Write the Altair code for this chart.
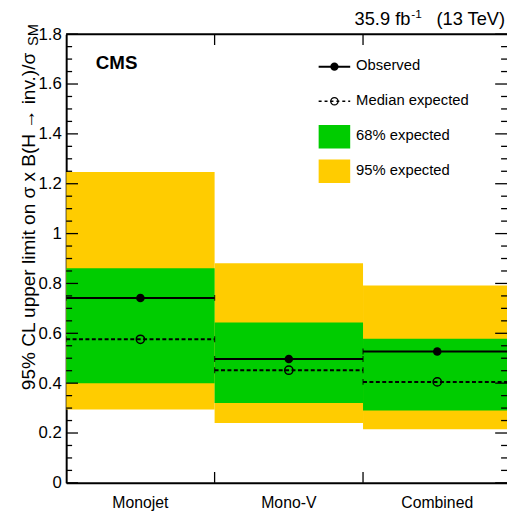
import altair as alt
import pandas as pd

# ---- data ----
categories = ["Monojet", "Mono-V", "Combined"]
bin_lo = [0.0, 1.0, 2.0]
bin_hi = [1.0, 2.0, 3.0]
observed = [0.742, 0.497, 0.527]
expected = [0.576, 0.452, 0.405]
lo68 = [0.400, 0.320, 0.290]
hi68 = [0.861, 0.643, 0.578]
lo95 = [0.294, 0.240, 0.215]
hi95 = [1.247, 0.881, 0.792]

y_major = [0, 0.2, 0.4, 0.6, 0.8, 1.0, 1.2, 1.4, 1.6, 1.8]
y_minor = [round(i * 0.05, 2) for i in range(37) if i % 4 != 0]
x_edges = [1.0, 2.0]

legend_labels = ["Observed", "Median expected", "68% expected", "95% expected"]

FONT = "Liberation Sans"
YELLOW = "#FFCC00"
GREEN = "#00CC00"
W, H = 447, 455

bins = pd.DataFrame({
    "cat": categories, "lo": bin_lo, "hi": bin_hi,
    "obs": observed, "exp": expected,
    "lo68": lo68, "hi68": hi68, "lo95": lo95, "hi95": hi95,
})
bins["mid"] = (bins["lo"] + bins["hi"]) / 2

caps = pd.DataFrame({
    "edge": bin_lo + bin_hi,
    "obs": observed + observed,
    "exp": expected + expected,
})

ysc = alt.Scale(domain=[0, 1.8], nice=False, zero=False)
xsc = alt.Scale(domain=[0, 2.97], nice=False, zero=False)
yax = alt.Axis(values=y_major, format="~g", ticks=False, grid=False, domain=True,
               domainWidth=2, domainColor="black", labelFontSize=17, labelFont=FONT,
               labelColor="black", labelPadding=5, title=None, labelFlush=False,
               labelOverlap=False)
xax = alt.Axis(labels=False, ticks=False, grid=False, domain=True, domainWidth=2,
               domainColor="black", title=None)


def X(f):
    return alt.X(f, type="quantitative", scale=xsc, axis=xax)


def Y(f):
    return alt.Y(f, type="quantitative", scale=ysc, axis=yax)


base = alt.Chart(bins)

band95 = base.mark_rect(color=YELLOW, clip=True).encode(
    x=X("lo"), x2="hi", y=Y("lo95"), y2="hi95")
band68 = base.mark_rect(color=GREEN, clip=True).encode(
    x=X("lo"), x2="hi", y=Y("lo68"), y2="hi68")
obs_line = base.mark_rule(color="black", strokeWidth=2, clip=True).encode(
    x=X("lo"), x2="hi", y=Y("obs"))
exp_line = base.mark_rule(color="black", strokeWidth=2, strokeDash=[4, 2.5], clip=True).encode(
    x=X("lo"), x2="hi", y=Y("exp"))

cap_obs = alt.Chart(caps).mark_tick(color="black", orient="vertical", size=6,
                                    thickness=1.3, clip=True).encode(
    x=X("edge"), y=Y("obs"))
cap_exp = alt.Chart(caps).mark_tick(color="black", orient="vertical", size=6,
                                    thickness=1.3, clip=True).encode(
    x=X("edge"), y=Y("exp"))

obs_pt = base.mark_point(shape="circle", filled=True, color="black", size=75, opacity=1).encode(
    x=X("mid"), y=Y("obs"))
exp_pt = base.mark_point(shape="circle", filled=False, color="black", strokeWidth=1.5,
                         size=70, opacity=1).encode(
    x=X("mid"), y=Y("exp"))

ymaj = pd.DataFrame({"v": y_major})
ymin = pd.DataFrame({"v": y_minor})
tick_layers = [
    alt.Chart(ymaj).mark_rule(color="black", strokeWidth=1.3).encode(
        y=Y("v"), x=alt.value(0), x2=alt.value(12)),
    alt.Chart(ymin).mark_rule(color="black", strokeWidth=1.3).encode(
        y=Y("v"), x=alt.value(0), x2=alt.value(6)),
    alt.Chart(ymaj).mark_rule(color="black", strokeWidth=1.3).encode(
        y=Y("v"), x=alt.value(W), x2=alt.value(W - 12)),
    alt.Chart(ymin).mark_rule(color="black", strokeWidth=1.3).encode(
        y=Y("v"), x=alt.value(W), x2=alt.value(W - 6)),
]
xe = pd.DataFrame({"e": x_edges})
tick_layers += [
    alt.Chart(xe).mark_rule(color="black", strokeWidth=1.3).encode(
        x=X("e"), y=alt.value(H), y2=alt.value(H - 11)),
    alt.Chart(xe).mark_rule(color="black", strokeWidth=1.3).encode(
        x=X("e"), y=alt.value(0), y2=alt.value(11)),
]

one = pd.DataFrame({"a": [0]})
top_frame = alt.Chart(one).mark_rule(color="black", strokeWidth=2).encode(
    x=alt.value(0), x2=alt.value(W), y=alt.value(0))

cat_labels = base.mark_text(font=FONT, fontSize=16, color="black", align="center",
                            baseline="alphabetic").encode(
    x=X("mid"), y=alt.value(480), text="cat:N")


def txt(s, x, y, **kw):
    return alt.Chart(one).mark_text(text=s, font=FONT, color="black", **kw).encode(
        x=alt.value(x), y=alt.value(y))


texts = [
    txt("CMS", 30, 35, fontSize=19, fontWeight="bold", align="left", baseline="alphabetic"),
    txt("35.9 fb", 349, -9, fontSize=18.5, align="right", baseline="alphabetic"),
    txt("-1", 350, -16, fontSize=12, align="left", baseline="alphabetic"),
    txt("(13 TeV)", 445, -9, fontSize=18.5, align="right", baseline="alphabetic"),
    txt("95% CL upper limit on σ x B(H → inv.)/σ", -32, 361, fontSize=19.3, angle=270,
        align="left", baseline="alphabetic"),
    txt("SM", -29, 12, fontSize=15, angle=270, align="left", baseline="alphabetic"),
]

# legend
leg_y = [33, 68, 104, 139]
legend = [
    alt.Chart(one).mark_rule(color="black", strokeWidth=2).encode(
        x=alt.value(256), x2=alt.value(288), y=alt.value(leg_y[0])),
    alt.Chart(one).mark_point(shape="circle", filled=True, color="black", size=70, opacity=1).encode(
        x=alt.value(272), y=alt.value(leg_y[0])),
    alt.Chart(one).mark_rule(color="black", strokeWidth=1.5, strokeDash=[3, 3]).encode(
        x=alt.value(256), x2=alt.value(288), y=alt.value(leg_y[1])),
    alt.Chart(one).mark_point(shape="circle", filled=False, color="black", strokeWidth=1.3,
                              size=56, opacity=1).encode(
        x=alt.value(272), y=alt.value(leg_y[1])),
    alt.Chart(one).mark_rect(color=GREEN).encode(
        x=alt.value(256), x2=alt.value(288), y=alt.value(leg_y[2] - 12), y2=alt.value(leg_y[2] + 12)),
    alt.Chart(one).mark_rect(color=YELLOW).encode(
        x=alt.value(256), x2=alt.value(288), y=alt.value(leg_y[3] - 12), y2=alt.value(leg_y[3] + 12)),
]
for lab, yy in zip(legend_labels, leg_y):
    legend.append(txt(lab, 294, yy - 1.5, fontSize=15, align="left", baseline="middle"))

chart = alt.layer(
    band95, band68, obs_line, exp_line, cap_obs, cap_exp, obs_pt, exp_pt,
    *tick_layers, top_frame, cat_labels, *texts, *legend
).properties(
    width=W, height=H,
    autosize=alt.AutoSizeParams(type="none"),
    padding={"left": 59, "top": 23, "right": 0, "bottom": 25},
).configure_view(stroke=None)

chart.save("out.html", embed_options={"renderer": "svg", "actions": False})
